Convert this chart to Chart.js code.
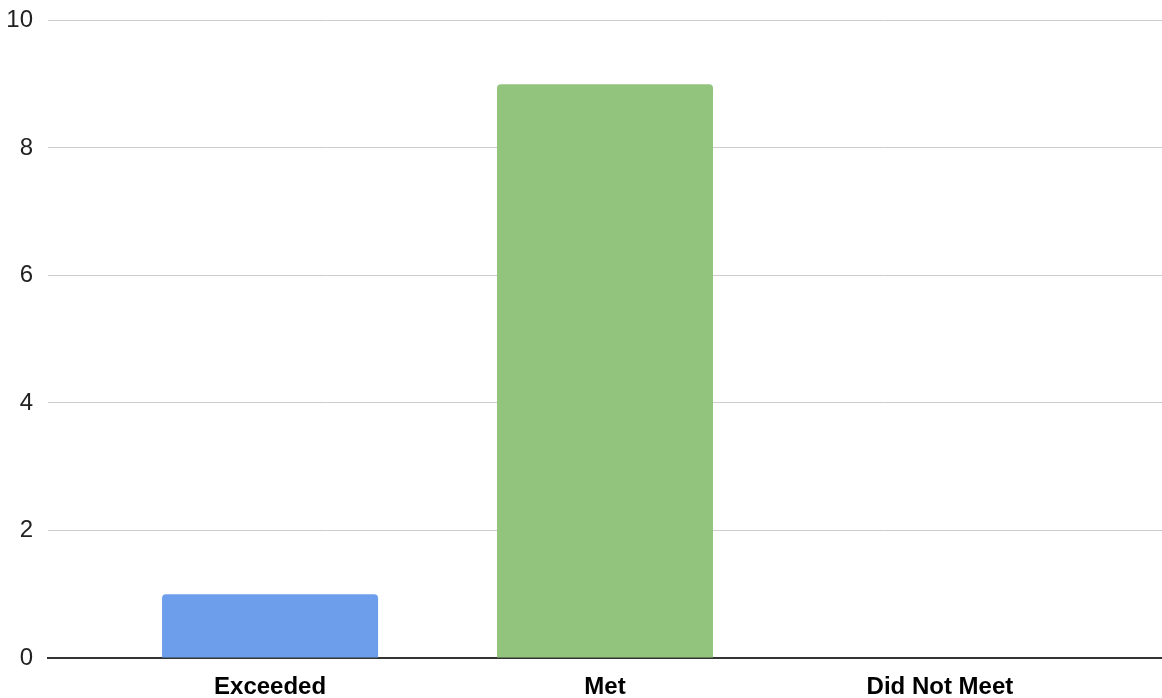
<!DOCTYPE html>
<html>
<head>
<meta charset="utf-8">
<script src="https://cdn.jsdelivr.net/npm/chart.js@4/dist/chart.umd.min.js"></script>
<style>
    html, body { margin: 0; padding: 0; background: #fff; overflow: hidden; }
    /* chart.js reserves extra room above the top tick label, so pull the canvas up a bit */
    #wrap { width: 1162px; height: 707px; margin-top: -9px; }
</style>
</head>
<body>
<div id="wrap"><canvas id="ratingChart"></canvas></div>
<script>
const categories = ['Exceeded', 'Met', 'Did Not Meet'];
const counts = [1, 9, 0];
const barColors = ['#6d9eeb', '#93c47d', '#e06666'];
const yTicks = [0, 2, 4, 6, 8, 10];

const ctx = document.getElementById('ratingChart').getContext('2d');
new Chart(ctx, {
    type: 'bar',
    data: {
        datasets: [{
            data: counts.map((v, i) => ({ x: i, y: v })),
            backgroundColor: barColors,
            borderRadius: { topLeft: 4, topRight: 4 },
            borderSkipped: 'start',
            barPercentage: 0.645,
            categoryPercentage: 1
        }]
    },
    options: {
        responsive: true,
        maintainAspectRatio: false,
        animation: false,
        layout: { padding: { top: 0, right: 0, left: 0, bottom: 0 } },
        plugins: {
            legend: { display: false },
            tooltip: { enabled: false }
        },
        scales: {
            x: {
                type: 'linear',
                offset: false,
                min: -0.663,
                max: 2.663,
                grid: { display: false, drawTicks: false, offset: false },
                border: { color: '#333333', width: 2 },
                afterBuildTicks: (scale) => {
                    scale.ticks = categories.map((_, i) => ({ value: i }));
                },
                afterFit: (scale) => { scale.height = 40; },
                ticks: {
                    autoSkip: false,
                    maxRotation: 0,
                    padding: 15,
                    color: '#000000',
                    font: { family: "'Liberation Sans', Arial, sans-serif", size: 24, weight: 'bold' },
                    callback: (value) => categories[value]
                }
            },
            y: {
                min: 0,
                max: 10,
                afterBuildTicks: (scale) => {
                    scale.ticks = yTicks.map(v => ({ value: v }));
                },
                afterFit: (scale) => { scale.width = 48; },
                grid: { color: '#cccccc', lineWidth: 1, drawTicks: false },
                border: { display: false },
                ticks: {
                    padding: 15,
                    color: '#222222',
                    font: { family: "'Liberation Sans', Arial, sans-serif", size: 24 }
                }
            }
        }
    }
});
</script>
</body>
</html>
